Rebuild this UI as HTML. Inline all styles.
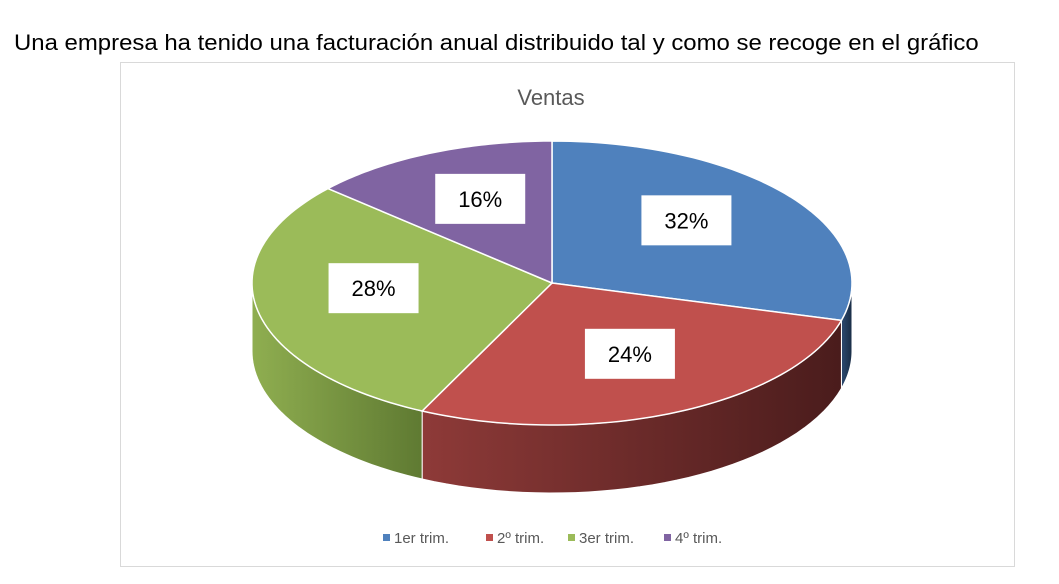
<!DOCTYPE html>
<html><head><meta charset="utf-8"><style>
body{margin:0;width:1059px;height:584px;background:#fff;overflow:hidden;font-family:"Liberation Sans",sans-serif}
#hdr{position:absolute;left:14px;top:30px;font-size:22px;color:#000;white-space:nowrap;transform:scaleX(1.088);transform-origin:0 0}
svg{position:absolute;left:0;top:0}
</style></head><body>
<div id="hdr">Una empresa ha tenido una facturación anual distribuido tal y como se recoge en el gráfico</div>
<svg id="c" width="1059" height="584">
<defs>
<linearGradient id="g0" x1="0" x2="1"><stop offset="0" stop-color="#2c4a70"/><stop offset="1" stop-color="#1a2d45"/></linearGradient>
<linearGradient id="g1" x1="0" x2="1"><stop offset="0" stop-color="#8e3a38"/><stop offset="1" stop-color="#4a1c1c"/></linearGradient>
<linearGradient id="g2" x1="0" x2="1"><stop offset="0" stop-color="#8fae50"/><stop offset="1" stop-color="#5f7a32"/></linearGradient>
<linearGradient id="g3" x1="0" x2="1"><stop offset="0" stop-color="#6a5088"/><stop offset="1" stop-color="#4a3862"/></linearGradient>
</defs>
<rect x="120.5" y="62.5" width="894" height="504" fill="#fff" stroke="#d9d9d9"/>
<text x="551" y="105" text-anchor="middle" font-size="22" fill="#595959">Ventas</text>
</svg>
<script>
const categories=["1er trim.","2º trim.","3er trim.","4º trim."];
const values=[32,24,28,16];
const labels=["32%","24%","28%","16%"];
const colors=["#4F81BD","#C0504D","#9BBB59","#8064A2"];
const svg=document.getElementById('c');const NS="http://www.w3.org/2000/svg";
const cx=552,cy=283,rx=300,ry=142,depth=68;
const total=values.reduce((a,b)=>a+b,0);
function warp(t){return t-(11*Math.PI/180)*Math.sin(t);}
function pt(t,dy){return [cx+rx*Math.sin(t),cy-ry*Math.cos(t)+(dy||0)];}
function mk(tag,attrs){const e=document.createElementNS(NS,tag);for(const k in attrs)e.setAttribute(k,attrs[k]);svg.appendChild(e);return e;}
let a=0;const angs=[];
values.forEach(v=>{const s=a;a+=v/total*2*Math.PI;angs.push([warp(s),warp(a),warp((s+a)/2)]);});
angs.forEach(([s,e],i)=>{
  const lo=Math.max(s,Math.PI/2),hi=Math.min(e,3*Math.PI/2);
  if(hi<=lo)return;
  let d="";const N=40;
  for(let k=0;k<=N;k++){const p=pt(lo+(hi-lo)*k/N);d+=(k?"L":"M")+p[0]+","+p[1];}
  for(let k=N;k>=0;k--){const p=pt(lo+(hi-lo)*k/N,depth);d+="L"+p[0]+","+p[1];}
  const el=mk('path',{d:d+"Z",fill:"url(#g"+i+")",stroke:"#fff","stroke-width":"1"});
  
  
});
angs.forEach(([s,e],i)=>{
  let d="M"+cx+","+cy;const N=60;
  for(let k=0;k<=N;k++){const p=pt(s+(e-s)*k/N);d+="L"+p[0]+","+p[1];}
  const el=mk('path',{d:d+"Z",fill:colors[i],stroke:"#fff","stroke-width":"1.5"});
  
  
});
angs.forEach(([s,e,m],i)=>{
  const p=[cx+0.6*rx*Math.sin(m),cy-0.6*ry*Math.cos(m)-6];
  const r=mk('rect',{x:p[0]-45,y:p[1]-25,width:90,height:50,fill:"#fff"});
  
  
  const t=mk('text',{x:p[0],y:p[1]+8,"text-anchor":"middle","font-size":"22",fill:"#000"});
  t.textContent=labels[i];
  
  
});
const lx=[383,486,568,664];
categories.forEach((c,i)=>{
  const r=mk('rect',{x:lx[i],y:534,width:7,height:7,fill:colors[i]});
  
  
  const t=mk('text',{x:lx[i]+11,y:543,"font-size":"15",fill:"#595959"});
  t.textContent=c;
  
  
});
</script>
</body></html>
